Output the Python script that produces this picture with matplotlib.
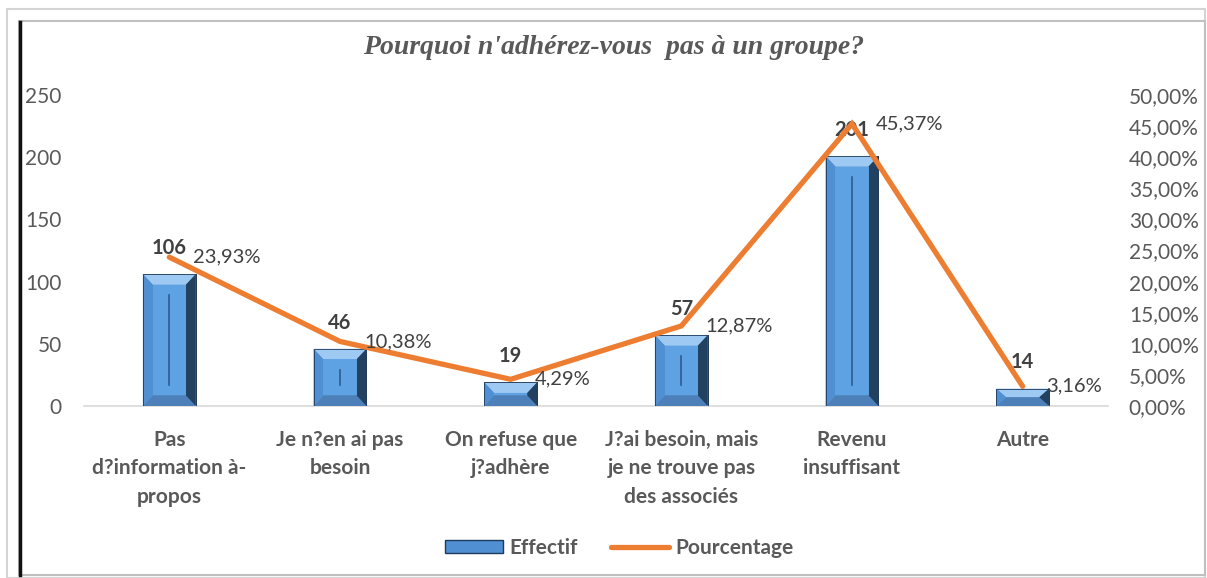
import matplotlib.pyplot as plt
from matplotlib.patches import Polygon, Rectangle, Patch
from matplotlib.lines import Line2D

categories = ["Pas\nd?information à-\npropos", "Je n?en ai pas\nbesoin",
              "On refuse que\nj?adhère", "J?ai besoin, mais\nje ne trouve pas\ndes associés",
              "Revenu\ninsuffisant", "Autre"]
effectif = [106, 46, 19, 57, 201, 14]
pourcentage = [23.93, 10.38, 4.29, 12.87, 45.37, 3.16]
pct_labels = ["23,93%", "10,38%", "4,29%", "12,87%", "45,37%", "3,16%"]
left_ticks = [0, 50, 100, 150, 200, 250]
right_ticks = [0, 5, 10, 15, 20, 25, 30, 35, 40, 45, 50]

plt.rcParams['font.family'] = ['Lato', 'DejaVu Sans']
grey = '#595959'

fig = plt.figure(figsize=(12.07, 5.78), dpi=100)
W, H = 1207, 578

# frame around the chart (like the Excel screenshot)
fig.add_artist(Rectangle((7 / W, 0), 1198 / W, 1 - 9 / H, transform=fig.transFigure,
                         fill=False, ec='#d4d4d4', lw=1.5))
fig.add_artist(Rectangle((19 / W, 3 / H), 1186 / W, 1 - 24 / H, transform=fig.transFigure,
                         fill=False, ec='#c0c0c0', lw=1.5))
fig.add_artist(Line2D([20 / W, 20 / W], [3 / H, 1 - 22 / H], transform=fig.transFigure,
                      color='#111111', lw=2.5))

ax = fig.add_axes([84 / W, 1 - 406 / H, 1024 / W, 311 / H])
x = list(range(len(categories)))
bars = ax.bar(x, effectif, width=0.31, color='#5b9bd5', edgecolor='#1f3a5a', linewidth=0.6, zorder=2)

# bevel look on the bars
for b in bars:
    x0, y0 = b.get_x(), b.get_y()
    x1, y1 = x0 + b.get_width(), y0 + b.get_height()
    dx = 0.058
    dy = min(8.5, (y1 - y0) / 2)
    facets = [
        ([(x0, y1), (x1, y1), (x1 - dx, y1 - dy), (x0 + dx, y1 - dy)], '#9dc9f3'),
        ([(x0, y0), (x1, y0), (x1 - dx, y0 + dy), (x0 + dx, y0 + dy)], '#4d7fb8'),
        ([(x0, y0), (x0 + dx, y0 + dy), (x0 + dx, y1 - dy), (x0, y1)], '#4f8fd2'),
        ([(x1, y0), (x1 - dx, y0 + dy), (x1 - dx, y1 - dy), (x1, y1)], '#22405f'),
    ]
    for pts, c in facets:
        ax.add_patch(Polygon(pts, closed=True, fc=c, ec='none', zorder=3))
    ax.add_patch(Rectangle((x0 + dx, y0 + dy), x1 - x0 - 2 * dx, y1 - y0 - 2 * dy,
                           fc='#5fa2e4', ec='none', zorder=3))
    if y1 - y0 > 4 * dy:
        xm = (x0 + x1) / 2
        ax.plot([xm, xm], [y0 + 2 * dy, y1 - 2 * dy], color='#2d5c8e', lw=1.2, zorder=4)
    ax.add_patch(Rectangle((x0, y0), x1 - x0, y1 - y0, fill=False, ec='#1f3a5a', lw=0.6, zorder=4))

ax.set_xlim(-0.5, len(categories) - 0.5)
ax.set_ylim(0, 250)
ax.set_yticks(left_ticks)
ax.set_xticks(x)
ax.set_xticklabels(categories, fontsize=15, fontweight='bold', color=grey, linespacing=1.55)
ax.tick_params(axis='y', length=0, labelsize=15, labelcolor=grey, pad=16)
ax.tick_params(axis='x', length=0, pad=17)
for s in ['top', 'left', 'right']:
    ax.spines[s].set_visible(False)
ax.spines['bottom'].set_color('#d9d9d9')
ax.spines['bottom'].set_linewidth(1.2)

for xi, v in zip(x, effectif):
    ax.text(xi, v + 21, str(v), ha='center', va='center', fontsize=14.5, fontweight='bold',
            color='#404040', zorder=6)

ax2 = ax.twinx()
ax2.set_ylim(0, 50)
ax2.set_yticks(right_ticks)
ax2.set_yticklabels(["%d,00%%" % t for t in right_ticks])
ax2.tick_params(axis='y', length=0, labelsize=15, labelcolor=grey, pad=15)
for s in ax2.spines.values():
    s.set_visible(False)
ax2.plot(x, pourcentage, color='#ed7d31', lw=3.8, solid_capstyle='round', solid_joinstyle='miter', zorder=5)
for xi, p, lab in zip(x, pourcentage, pct_labels):
    ax2.text(xi + 0.14, p, lab, ha='left', va='center', fontsize=14.5, color='#404040', zorder=6)

fig.text(0.508, 1 - 47 / H, "Pourquoi n'adhérez-vous  pas à un groupe?", ha='center', va='center',
         fontsize=20, fontweight='bold', fontstyle='italic', color=grey,
         family=['Liberation Serif', 'DejaVu Serif'])

handles = [Patch(facecolor='#4f8fd2', edgecolor='#1f3a5a', linewidth=1),
           Line2D([], [], color='#ed7d31', lw=3.8, solid_capstyle='round')]
leg = fig.legend(handles, ['Effectif', 'Pourcentage'], loc='center', bbox_to_anchor=(0.513, 1 - 548 / H),
                 ncol=2, frameon=False, handlelength=2.8, handleheight=0.6, columnspacing=1.6,
                 handletextpad=0.3, prop={'size': 15, 'weight': 'bold'})
for t in leg.get_texts():
    t.set_color(grey)

fig.savefig('out.png', dpi=100)
